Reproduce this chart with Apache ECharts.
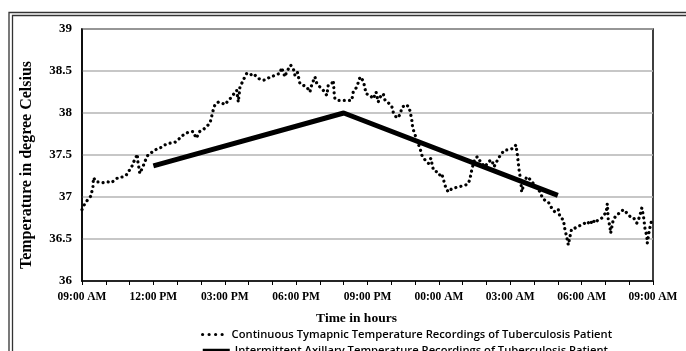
<!doctype html>
<html>
<head>
<meta charset="utf-8">
<script src="https://cdn.jsdelivr.net/npm/echarts@6/dist/echarts.min.js"></script>
<style>
  html, body { margin: 0; padding: 0; background: #fff; }
  #chart { width: 686px; height: 351px; }
</style>
</head>
<body>
<div id="chart"></div>
<script>
// hours after 09:00 AM
const continuousHours = [
  0, 0.08, 0.22, 0.37, 0.46, 0.48, 0.60, 0.74, 0.88, 1.09, 1.23, 1.37, 1.51, 1.72, 1.86, 1.93,
  2.07, 2.14, 2.28, 2.32, 2.35, 2.43, 2.56, 2.64, 2.77, 2.98, 3.19, 3.33, 3.48, 3.69, 3.90, 4.04,
  4.17, 4.32, 4.46, 4.67, 4.80, 4.95, 5.09, 5.24, 5.38, 5.45, 5.52, 5.59, 5.73, 5.87, 6.01, 6.15,
  6.29, 6.39, 6.50, 6.57, 6.64, 6.71, 6.81, 6.92, 7.06, 7.20, 7.34, 7.48, 7.62, 7.76, 7.90, 8.04,
  8.18, 8.32, 8.39, 8.53, 8.60, 8.67, 8.77, 8.88, 8.95, 9.05, 9.16, 9.30, 9.45, 9.58, 9.65, 9.79,
  9.87, 10.00, 10.14, 10.29, 10.35, 10.50, 10.56, 10.60, 10.63, 10.77, 10.92, 11.06, 11.19, 11.34, 11.40, 11.55,
  11.69, 11.80, 11.85, 11.94, 12.11, 12.24, 12.36, 12.45, 12.53, 12.66, 12.74, 12.88, 13.02, 13.09, 13.23, 13.37,
  13.44, 13.58, 13.72, 13.79, 13.86, 13.90, 14.00, 14.09, 14.21, 14.28, 14.42, 14.56, 14.66, 14.77, 14.91, 15.02,
  15.12, 15.22, 15.30, 15.40, 15.54, 15.68, 15.82, 15.96, 16.10, 16.24, 16.31, 16.38, 16.45, 16.52, 16.62, 16.70,
  16.80, 16.94, 17.08, 17.22, 17.32, 17.40, 17.50, 17.64, 17.78, 17.92, 17.99, 18.13, 18.24, 18.30, 18.34, 18.38,
  18.44, 18.48, 18.58, 18.69, 18.83, 18.97, 19.11, 19.25, 19.37, 19.46, 19.60, 19.74, 19.88, 20.02, 20.09, 20.23,
  20.30, 20.37, 20.44, 20.51, 20.58, 20.72, 20.86, 21.00, 21.14, 21.24, 21.35, 21.47, 21.56, 21.70, 21.85, 21.94,
  22.03, 22.08, 22.12, 22.19, 22.22, 22.33, 22.48, 22.61, 22.75, 22.90, 23.03, 23.17, 23.32, 23.43, 23.53, 23.60,
  23.67, 23.74, 23.76, 23.85, 23.95, 24.00
];
const continuousTemps = [
  36.85, 36.90, 36.96, 37.01, 37.12, 37.23, 37.18, 37.18, 37.17, 37.18, 37.17, 37.20, 37.23, 37.24, 37.26, 37.30,
  37.34, 37.40, 37.48, 37.51, 37.42, 37.28, 37.36, 37.42, 37.50, 37.54, 37.58, 37.59, 37.62, 37.64, 37.65, 37.68,
  37.72, 37.75, 37.77, 37.78, 37.70, 37.78, 37.80, 37.84, 37.88, 37.96, 38.04, 38.10, 38.13, 38.12, 38.10, 38.15,
  38.19, 38.23, 38.27, 38.13, 38.31, 38.35, 38.41, 38.47, 38.45, 38.47, 38.43, 38.40, 38.39, 38.40, 38.43, 38.44,
  38.46, 38.47, 38.54, 38.43, 38.49, 38.51, 38.57, 38.53, 38.45, 38.49, 38.35, 38.33, 38.31, 38.25, 38.33, 38.43,
  38.35, 38.31, 38.27, 38.21, 38.33, 38.35, 38.39, 38.23, 38.17, 38.15, 38.15, 38.15, 38.15, 38.15, 38.25, 38.31,
  38.43, 38.39, 38.35, 38.23, 38.21, 38.17, 38.25, 38.13, 38.19, 38.23, 38.15, 38.12, 38.08, 38.00, 37.94, 37.98,
  38.06, 38.10, 38.08, 38.02, 37.92, 37.82, 37.74, 37.66, 37.58, 37.50, 37.44, 37.40, 37.46, 37.32, 37.30, 37.26,
  37.28, 37.18, 37.10, 37.06, 37.10, 37.11, 37.12, 37.13, 37.14, 37.16, 37.22, 37.32, 37.40, 37.46, 37.48, 37.44,
  37.40, 37.36, 37.42, 37.44, 37.36, 37.34, 37.46, 37.52, 37.56, 37.56, 37.54, 37.58, 37.62, 37.50, 37.40, 37.30,
  37.20, 37.06, 37.16, 37.24, 37.21, 37.16, 37.12, 37.06, 36.98, 36.96, 36.94, 36.87, 36.82, 36.85, 36.76, 36.73,
  36.61, 36.53, 36.43, 36.53, 36.62, 36.63, 36.65, 36.67, 36.69, 36.71, 36.67, 36.73, 36.69, 36.73, 36.75, 36.79,
  36.81, 36.92, 36.73, 36.65, 36.57, 36.73, 36.79, 36.81, 36.85, 36.81, 36.77, 36.76, 36.69, 36.76, 36.87, 36.77,
  36.61, 36.54, 36.45, 36.61, 36.73, 36.75
];

const axillaryHours = [3, 11, 20];
const axillaryTemps = [37.37, 38.0, 37.02];

const timeTickLabels = ['09:00 AM', '12:00 PM', '03:00 PM', '06:00 PM', '09:00 PM', '00:00 AM', '03:00 AM', '06:00 AM', '09:00 AM'];
const tempTicks = { min: 36, max: 39, step: 0.5 };

const nameContinuous = 'Continuous Tymapnic Temperature Recordings of Tuberculosis Patient';
const nameAxillary = 'Intermittent Axillary Temperature Recordings of Tuberculosis Patient';

const serif = 'Liberation Serif';
const legendText = { fontFamily: 'Open Sans', fontSize: 11.2, fontWeight: 600, color: '#000' };

const chart = echarts.init(document.getElementById('chart'));

chart.setOption({
  animation: false,
  backgroundColor: '#fff',
  color: ['#000', '#000'],
  graphic: [
    { type: 'rect', shape: { x: 9, y: 12.5, width: 720, height: 400 }, style: { fill: 'none', stroke: '#333', lineWidth: 1.3 } },
    { type: 'rect', shape: { x: 12.5, y: 15.5, width: 720, height: 400 }, style: { fill: 'none', stroke: '#333', lineWidth: 1.3 } }
  ],
  grid: { left: 82, right: 33, top: 29, bottom: 70, show: true, borderColor: '#000', borderWidth: 1.5 },
  legend: [
    {
      data: [nameContinuous],
      left: 196, top: 324,
      itemWidth: 24, itemHeight: 10, itemGap: 5,
      textStyle: legendText,
      itemStyle: { opacity: 0 },
      lineStyle: { type: [0.01, 6.5], width: 3.2, cap: 'round' }
    },
    {
      data: [nameAxillary],
      left: 196, top: 340,
      itemWidth: 27, itemHeight: 10, itemGap: 4,
      textStyle: legendText,
      itemStyle: { opacity: 0 },
      lineStyle: { width: 3.5 }
    }
  ],
  xAxis: {
    type: 'value',
    min: 0, max: 24, interval: 3,
    name: 'Time in hours',
    nameLocation: 'middle',
    nameGap: 31,
    nameTextStyle: { fontFamily: serif, fontWeight: 'bold', fontSize: 13.5, color: '#000', padding: [0, 22, 0, 0] },
    axisLine: { lineStyle: { color: '#000', width: 1.5 } },
    axisTick: { show: true, length: 4, lineStyle: { color: '#000' } },
    minorTick: { show: true, splitNumber: 3, length: 4, lineStyle: { color: '#000' } },
    splitLine: { show: false },
    axisLabel: {
      margin: 10,
      fontFamily: serif, fontWeight: 'bold', fontSize: 11.5, color: '#000',
      formatter: (v) => timeTickLabels[Math.round(v / 3)]
    }
  },
  yAxis: {
    type: 'value',
    min: tempTicks.min, max: tempTicks.max, interval: tempTicks.step,
    name: 'Temperature in degree Celsius',
    nameLocation: 'middle',
    nameGap: 47,
    nameRotate: 90,
    nameTextStyle: { fontFamily: serif, fontWeight: 'bold', fontSize: 16, color: '#000', padding: [0, 20, 0, 0] },
    axisLine: { show: true, lineStyle: { color: '#000', width: 1.5 } },
    axisTick: { show: false },
    splitLine: { lineStyle: { color: '#b4b4b4', width: 1.5 } },
    axisLabel: { margin: 10, fontFamily: serif, fontWeight: 'bold', fontSize: 13, color: '#000' }
  },
  series: [
    {
      name: nameContinuous,
      type: 'line',
      symbol: 'none',
      data: continuousHours.map((h, i) => [h, continuousTemps[i]]),
      lineStyle: { color: '#000', width: 3.2, type: [0.01, 5.2], cap: 'round' },
      z: 3
    },
    {
      name: nameAxillary,
      type: 'line',
      symbol: 'none',
      data: axillaryHours.map((h, i) => [h, axillaryTemps[i]]),
      lineStyle: { color: '#000', width: 5 },
      z: 4
    }
  ]
});
</script>
</body>
</html>
